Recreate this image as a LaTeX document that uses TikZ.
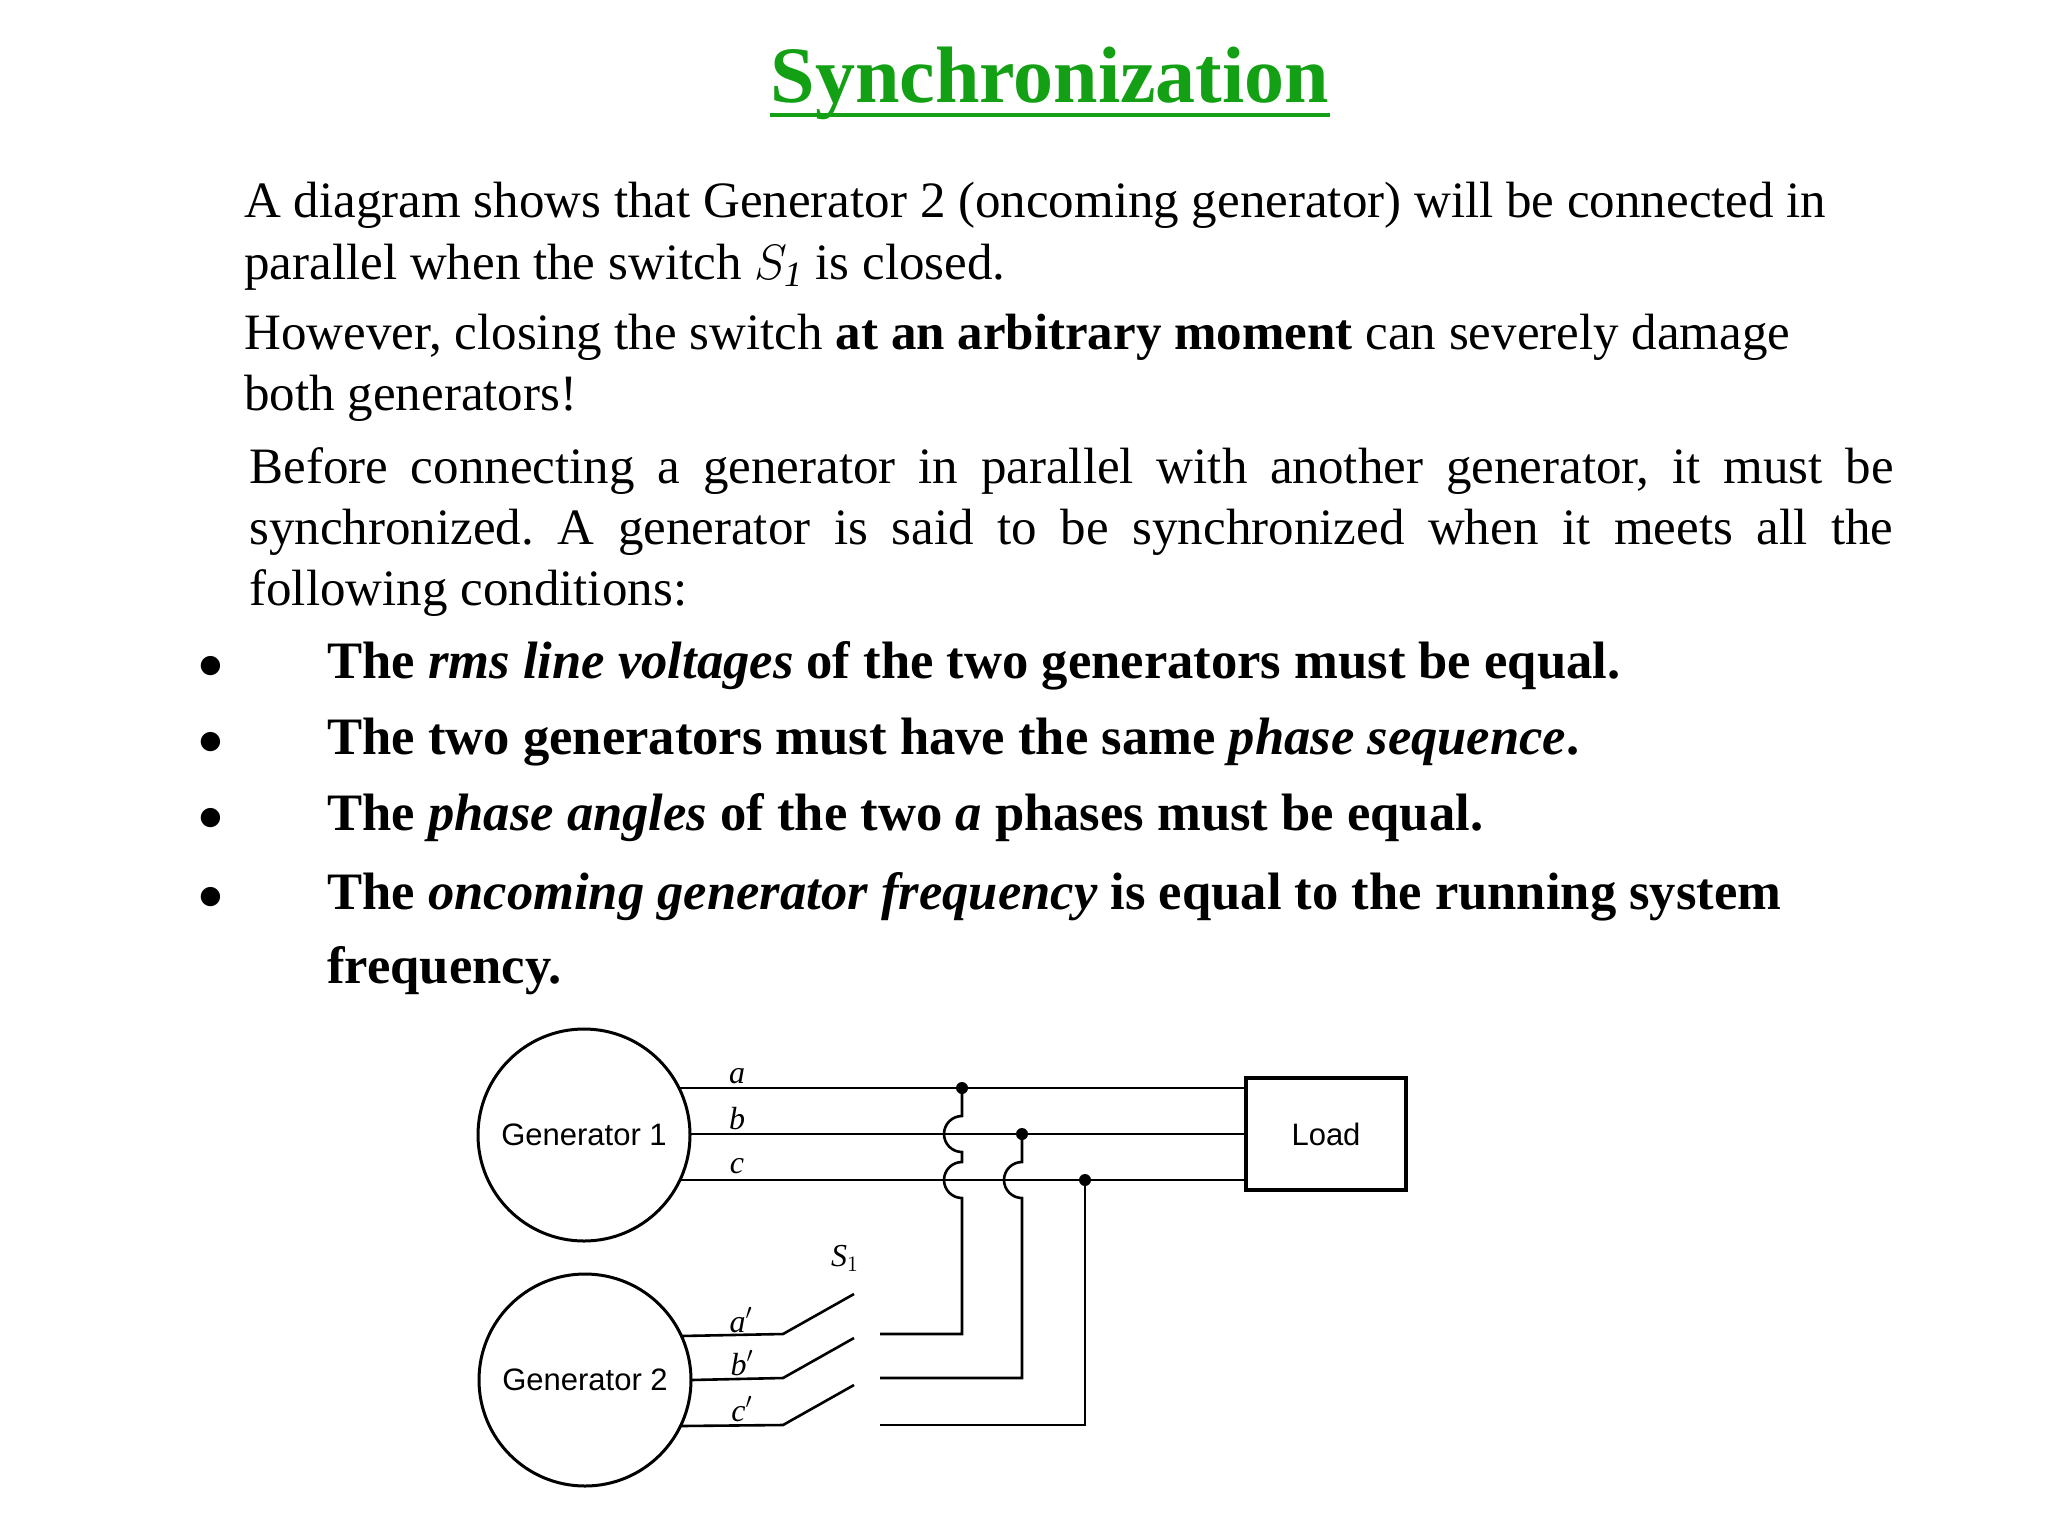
\documentclass[tikz,border=0pt]{standalone}
\usepackage{fontspec}
\setmainfont{Liberation Serif}
\newfontfamily\diagfont{Liberation Sans}
\definecolor{titlegreen}{RGB}{20,160,20}
\frenchspacing
\begin{document}
\begin{tikzpicture}[x=0.5pt,y=-0.5pt,
  body/.style={anchor=base west,inner sep=0pt,font=\fontsize{25.5}{30}\selectfont},
  bul/.style={anchor=base west,inner sep=0pt,font=\fontsize{26.3}{30}\selectfont\bfseries},
  wire/.style={line width=1.3pt},
  dot/.style={circle,fill=black,inner sep=0pt,minimum size=6pt},
  lab/.style={inner sep=0pt,font=\fontsize{16}{18}\selectfont\itshape},
  gen/.style={circle,draw,line width=1.5pt,minimum size=106pt,inner sep=0pt,font=\diagfont\fontsize{15.5}{16}\selectfont}]
\useasboundingbox (0,0) rectangle (2048,1536);
\begin{scope}[shift={(0,3)}]
% title
\node[anchor=base,inner sep=0pt,text=titlegreen,font=\fontsize{40}{50}\selectfont\bfseries] (title) at (1050,100) {Synchronization};
\draw[titlegreen,line width=1.6pt] (title.south west|-0,112) -- (title.south east|-0,112);
% paragraphs
\node[body] (p1) at (244,214) {A diagram shows that Generator 2 (oncoming generator) will be connected in};
\node[body] (p2) at (244,276) {parallel when the switch $S_{\mathit 1}$ is closed.};
\node[body] (p3) at (244,346) {However, closing the switch \textbf{at an arbitrary moment} can severely damage};
\node[body] (p4) at (244,407) {both generators!};
\node[body] (p5) at (249,480) {\hbox to 822pt{Before connecting a generator in parallel with another generator, it must be}};
\node[body] (p6) at (249,541) {\hbox to 822pt{synchronized. A generator is said to be synchronized when it meets all the}};
\node[body] (p7) at (249,602) {following conditions:};
% bullets
\foreach \y in {675,751,827,906}{\node[body] at (198,\y) {$\bullet$};}
\node[bul] (b1) at (327,675) {The \textit{rms line voltages} of the two generators must be equal.};
\node[bul] (b2) at (327,751) {The two generators must have the same \textit{phase sequence}.};
\node[bul] (b3) at (327,827) {The \textit{phase angles} of the two \textit{a} phases must be equal.};
\node[bul] (b4) at (327,906) {The \textit{oncoming generator frequency} is equal to the running system};
\node[bul] (b5) at (327,980) {frequency.};
\end{scope}
\begin{scope}[shift={(-2,-6)}]
% diagram
\node[gen] (g1) at (586,1141) {Generator 1};
\node[gen] (g2) at (587,1386) {Generator 2};
\node[draw,line width=1.8pt,minimum width=80pt,minimum height=56pt,inner sep=0pt,font=\diagfont\fontsize{15.5}{16}\selectfont] (load) at (1328,1140) {Load};
\coordinate (ga) at (681,1094); \coordinate (gb) at (692,1140); \coordinate (gc) at (682,1186);
\coordinate (la) at (load.west|-0,1094); \coordinate (lb) at (load.west|-0,1140); \coordinate (lc) at (load.west|-0,1186);
\draw[wire] (ga) -- (la); \draw[wire] (gb) -- (lb); \draw[wire] (gc) -- (lc);
\node[dot] (da) at (964,1094) {}; \node[dot] (db) at (1024,1140) {}; \node[dot] (dc) at (1087,1186) {};
% verticals with jumps
\draw[wire] (da.center) -- (964,1122) arc[start angle=90,end angle=270,radius=9pt] -- (964,1168) arc[start angle=90,end angle=270,radius=9pt] -- (964,1340) -- (882,1340);
\draw[wire] (db.center) -- (1024,1168) arc[start angle=90,end angle=270,radius=9pt] -- (1024,1384) -- (882,1384);
\draw[wire] (dc.center) -- (1087,1431) -- (882,1431);
% generator 2 leads and switch blades
\coordinate (ha) at (683,1342); \coordinate (hb) at (693,1386); \coordinate (hc) at (683,1432);
\draw[wire] (ha) -- (785,1340) -- (856,1300);
\draw[wire] (hb) -- (785,1384) -- (856,1344);
\draw[wire] (hc) -- (785,1431) -- (856,1391);
% labels
\node[lab] at (739,1082) {a};
\node[lab] at (739,1125) {b};
\node[lab] at (739,1172) {c};
\node[lab] at (743,1326) {a$'$};
\node[lab] at (744,1369) {b$'$};
\node[lab] at (744,1415) {c$'$};
\node[lab] at (847,1264) {S$_1$};
\end{scope}
\end{tikzpicture}
\end{document}
